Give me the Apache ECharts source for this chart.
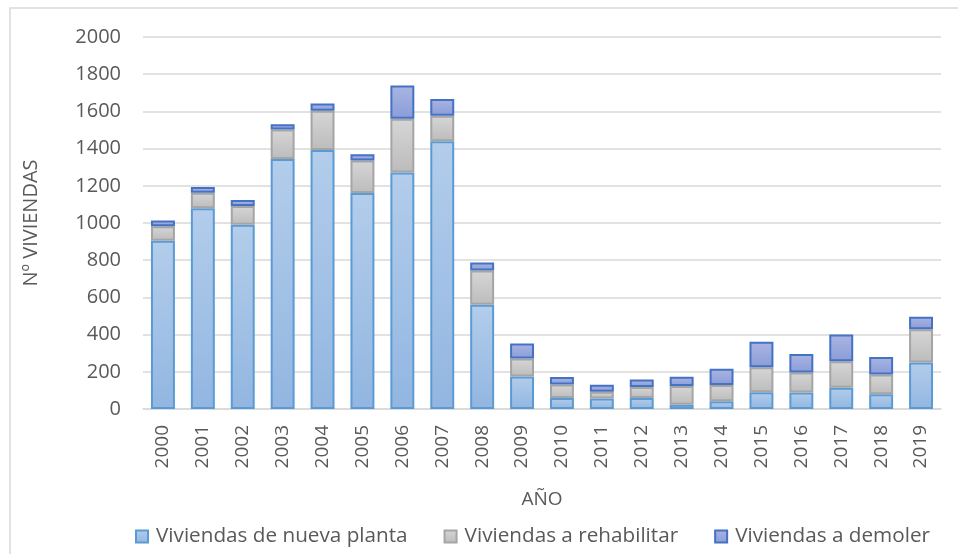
<!DOCTYPE html>
<html>
<head>
<meta charset="utf-8">
<script src="https://cdn.jsdelivr.net/npm/echarts@6/dist/echarts.min.js"></script>
<style>html,body{margin:0;padding:0;background:#fff;}#c{width:958px;height:554px;}</style>
</head>
<body>
<div id="c"></div>
<script>
var years = ['2000','2001','2002','2003','2004','2005','2006','2007','2008','2009','2010','2011','2012','2013','2014','2015','2016','2017','2018','2019'];
var nuevaPlanta = [905,1079,991,1344,1392,1161,1272,1440,560,175,59,57,59,23,42,90,89,114,79,250];
var rehabilitar = [77,84,100,159,211,175,288,136,184,97,73,36,59,100,87,134,107,143,107,179];
var demoler = [32,30,32,28,39,34,179,91,43,80,40,38,41,51,87,137,100,143,93,67];
var yTicks = [0,200,400,600,800,1000,1200,1400,1600,1800,2000];
var seriesNames = ['Viviendas de nueva planta','Viviendas a rehabilitar','Viviendas a demoler'];

var FONT = 'Open Sans';
function grad(a,b){return new echarts.graphic.LinearGradient(0,0,0,1,[{offset:0,color:a},{offset:1,color:b}]);}

var chart = echarts.init(document.getElementById('c'), null, {renderer:'canvas'});
chart.setOption({
  animation:false,
  backgroundColor:'#fff',
  textStyle:{fontFamily:FONT},
  graphic:[{type:'rect',shape:{x:10,y:8,width:1000,height:600},style:{fill:'none',stroke:'#d9d9d9',lineWidth:1.5},z:-1}],
  grid:{left:143,right:17,top:37,bottom:145,containLabel:false},
  legend:{
    bottom:2,left:130,itemWidth:12,itemHeight:12,itemGap:36,
    icon:'rect',
    textStyle:{fontFamily:FONT,fontSize:20.7,color:'#595959',padding:[0,0,0,3]},
    data:seriesNames
  },
  xAxis:{
    type:'category',data:years,
    name:'AÑO',nameLocation:'middle',nameGap:81,
    nameTextStyle:{fontFamily:FONT,fontSize:19,color:'#595959'},
    axisLine:{lineStyle:{color:'#d9d9d9',width:1.5}},
    axisTick:{show:false},
    axisLabel:{rotate:90,margin:16,fontFamily:FONT,fontSize:19,color:'#595959'}
  },
  yAxis:{
    type:'value',min:0,max:2000,interval:200,
    name:'Nº VIVIENDAS',nameLocation:'middle',nameGap:102,nameRotate:90,
    nameTextStyle:{fontFamily:FONT,fontSize:20,color:'#595959'},
    axisLine:{show:false},axisTick:{show:false},
    axisLabel:{margin:22,fontFamily:FONT,fontSize:20,color:'#595959',
      formatter:function(v){return yTicks.indexOf(v)>=0?String(v):'';}},
    splitLine:{lineStyle:{color:'#d9d9d9',width:1.5}}
  },
  series:[
    {name:seriesNames[0],type:'bar',stack:'t',data:nuevaPlanta,barWidth:'60%',
     itemStyle:{color:grad('#b3cdeb','#92b6e1'),borderColor:'#5b9bd5',borderWidth:2}},
    {name:seriesNames[1],type:'bar',stack:'t',data:rehabilitar,
     itemStyle:{color:grad('#d6d6d6','#bcbcbc'),borderColor:'#a5a5a5',borderWidth:2}},
    {name:seriesNames[2],type:'bar',stack:'t',data:demoler,
     itemStyle:{color:grad('#a9b5e2','#8b9cd8'),borderColor:'#4472c4',borderWidth:2}}
  ]
});
</script>
</body>
</html>
